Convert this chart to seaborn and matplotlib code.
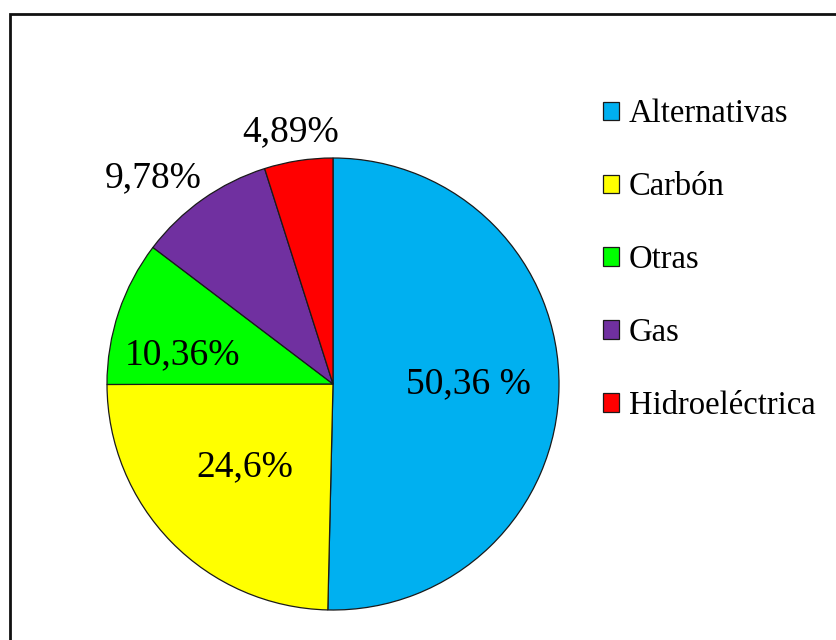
import numpy as np
import matplotlib
matplotlib.use("Agg")
import matplotlib.pyplot as plt
from matplotlib.patches import Rectangle
import seaborn as sns

# Energy mix shares (%)
sources = ["Alternativas", "Carbón", "Otras", "Gas", "Hidroeléctrica"]
shares = [50.36, 24.6, 10.36, 9.78, 4.89]
share_labels = ["50,36 %", "24,6%", "10,36%", "9,78%", "4,89%"]
colors = ["#00B0F0", "#FFFF00", "#00FF00", "#7030A0", "#FF0000"]

# label placement: radial distance (in radii) and angular nudge (degrees)
label_dist = [0.60, 0.535, 0.68, 1.21, 1.13]
label_nudge = [0.6, -1.1, 7.5, 5.8, 0.8]

sns.set_theme(style="white")
plt.rcParams["font.family"] = ["Liberation Serif", "DejaVu Serif"]
plt.rcParams["text.color"] = "black"

W, H = 837, 640
fig = plt.figure(figsize=(W / 100, H / 100), dpi=100)

# outer chart frame
cx, cy, R = 333, 384, 226
fig.patches.append(Rectangle((10 / W, -0.1), 1.2, (H - 14) / H + 0.1,
                             transform=fig.transFigure, fill=False,
                             edgecolor="#111111", linewidth=2.0))

ax = fig.add_axes([(cx - R) / W, (H - cy - R) / H, 2 * R / W, 2 * R / H])
wedges, _ = ax.pie(shares, colors=colors, startangle=90, counterclock=False,
                   radius=1.0,
                   wedgeprops=dict(edgecolor="#1a1a1a", linewidth=0.9))
ax.set_xlim(-1, 1)
ax.set_ylim(-1, 1)
ax.set_aspect("equal")
ax.axis("off")

for w, lab, d, nud in zip(wedges, share_labels, label_dist, label_nudge):
    ang = np.deg2rad((w.theta1 + w.theta2) / 2 + nud)
    ax.text(d * np.cos(ang), d * np.sin(ang), lab, ha="center", va="center",
            fontsize=27, color="black", clip_on=False)

leg = fig.legend(wedges, sources, loc="upper left",
                 bbox_to_anchor=(603 / W, (H - 99) / H),
                 frameon=False, fontsize=23.5, handlelength=0.5,
                 handleheight=0.5, handletextpad=0.3, labelspacing=1.30,
                 borderpad=0, borderaxespad=0, labelcolor="black")

fig.savefig("out.png", dpi=100)
